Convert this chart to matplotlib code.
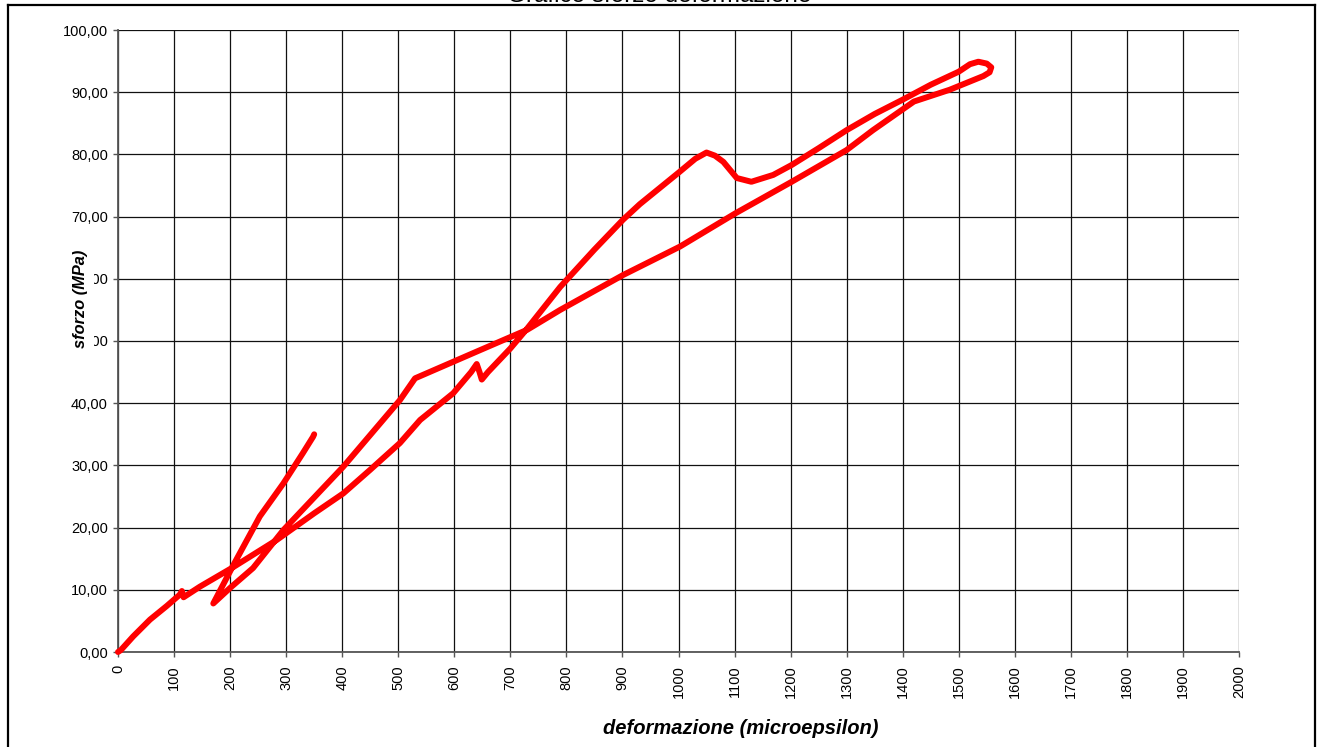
import numpy as np
import matplotlib
matplotlib.use("Agg")
import matplotlib.pyplot as plt
from matplotlib.lines import Line2D
from matplotlib.ticker import FuncFormatter, MultipleLocator

plt.rcParams["font.family"] = ["Liberation Sans", "DejaVu Sans"]

# strain (microepsilon) and stress (MPa), in recording order
deformazione = [
    0, 5, 27, 57, 87, 110, 114, 117, 146, 203, 283, 350, 402, 450, 503, 539,
    598, 630, 640, 645, 649, 660, 700, 730, 789, 850, 901, 931, 1002, 1030,
    1050, 1065, 1080, 1104, 1130, 1169, 1202, 1250, 1300, 1350, 1400, 1450,
    1500, 1520, 1535, 1550, 1558, 1555, 1544, 1484, 1420, 1347, 1300, 1202,
    1101, 1003, 901, 789, 730, 640, 530, 503, 402, 295, 241, 200, 170, 206,
    253, 295, 330, 348, 350,
]
sforzo = [
    0.0, 0.3, 2.5, 5.2, 7.4, 9.2, 9.8, 8.8, 10.5, 13.5, 18.0, 22.3, 25.5,
    29.3, 33.6, 37.3, 41.6, 45.0, 46.3, 45.0, 43.8, 45.0, 48.8, 52.0, 58.7,
    64.7, 69.5, 72.0, 77.2, 79.3, 80.3, 79.8, 78.8, 76.2, 75.6, 76.7, 78.3,
    81.0, 83.9, 86.5, 88.8, 91.2, 93.3, 94.5, 94.9, 94.6, 94.0, 93.2, 92.6,
    90.4, 88.5, 83.9, 80.7, 75.6, 70.5, 65.2, 60.6, 55.0, 51.8, 48.3, 44.0,
    40.5, 29.8, 19.6, 13.5, 10.3, 7.8, 14.0, 21.8, 27.1, 32.0, 34.6, 35.0,
]

W, H = 1317, 747
fig = plt.figure(figsize=(W / 100, H / 100), dpi=100)
ax = fig.add_axes([118 / W, 1 - 652 / H, 1121 / W, 622 / H])

ax.plot(deformazione, sforzo, color="#ff0000", lw=4.3,
        solid_joinstyle="round", solid_capstyle="round", zorder=3, clip_on=False)

ax.set_xlim(0, 2000)
ax.set_ylim(0, 100)
ax.xaxis.set_major_locator(MultipleLocator(100))
ax.yaxis.set_major_locator(MultipleLocator(10))
ax.yaxis.set_major_formatter(FuncFormatter(lambda v, p: f"{v:.2f}".replace(".", ",")))
ax.grid(True, color="#111111", lw=0.9, zorder=1)
ax.set_axisbelow(True)

for s in ("top", "right"):
    ax.spines[s].set_visible(False)
for s in ("left", "bottom"):
    ax.spines[s].set_color("#555555")
    ax.spines[s].set_linewidth(1.3)

ax.tick_params(axis="both", colors="#555555", labelcolor="black",
               length=3.8, width=1.0, labelsize=10.5)
ax.tick_params(axis="x", labelrotation=90, pad=5.5)
ax.tick_params(axis="y", pad=3.5)

ax.set_xlabel("deformazione (microepsilon)", fontsize=14.5,
              fontweight="bold", fontstyle="italic")
ax.xaxis.set_label_coords((741 - 118) / 1121, -(719 - 652) / 622)
ax.set_ylabel("sforzo (MPa)", fontsize=11.8, fontweight="bold",
              fontstyle="italic", va="center", ha="center",
              bbox=dict(facecolor="white", edgecolor="none", pad=4))
ax.yaxis.set_label_coords((81 - 118) / 1121, (652 - 299) / 622)

# chart area border (top is cropped in the original)
border_kw = dict(color="black", lw=1.6, transform=fig.transFigure)
fig.add_artist(Line2D([8 / W, 1315 / W], [1 - 5 / H, 1 - 5 / H], **border_kw))
fig.add_artist(Line2D([8 / W, 8 / W], [0, 1 - 5 / H], **border_kw))
fig.add_artist(Line2D([1315 / W, 1315 / W], [0, 1 - 5 / H], **border_kw))

fig.text(659 / W, 1 - 1.5 / H, "Grafico sforzo deformazione", fontsize=17.5,
         ha="center", va="baseline")

fig.savefig("out.png", dpi=100)
